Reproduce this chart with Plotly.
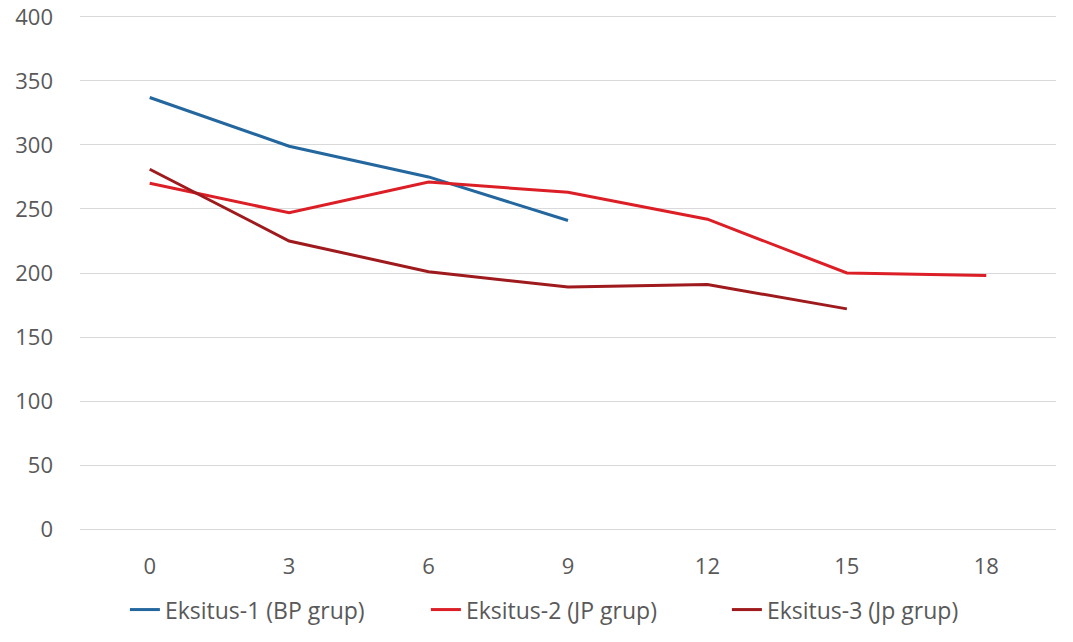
import plotly.graph_objects as go

months = ["0", "3", "6", "9", "12", "15", "18"]
eksitus1 = [337, 299, 275, 241]
eksitus2 = [270, 247, 271, 263, 242, 200, 198]
eksitus3 = [281, 225, 201, 189, 191, 172]
names = ["Eksitus-1 (BP grup)", "Eksitus-2 (JP grup)", "Eksitus-3 (Jp grup)"]
colors = ["#23679E", "#DC1F26", "#9E1A1D"]
y_ticks = [0, 50, 100, 150, 200, 250, 300, 350, 400]

fig = go.Figure()
for name, vals, col in zip(names, [eksitus1, eksitus2, eksitus3], colors):
    fig.add_trace(go.Scatter(x=months[:len(vals)], y=vals, mode="lines", name=name,
                             line=dict(color=col, width=3)))

fam = "'Open Sans', sans-serif"
fig.update_layout(
    width=1073, height=642,
    margin=dict(l=80, r=17, t=13, b=109, autoexpand=False),
    plot_bgcolor="white", paper_bgcolor="white",
    font=dict(family=fam, size=22, color="#595959"),
    showlegend=True,
    legend=dict(orientation="h", x=0.046, xanchor="left", y=-0.106, yanchor="top",
                font=dict(family=fam, size=23, color="#595959"),
                itemwidth=30, tracegroupgap=0, entrywidth=256, entrywidthmode="pixels"),
    xaxis=dict(type="category", categoryorder="array", categoryarray=months,
               range=[-0.5, 6.5], showgrid=False, showline=False, zeroline=False,
               ticks="", ticklabelstandoff=18, automargin=False),
    yaxis=dict(range=[-3, 403], tickvals=y_ticks, showgrid=True, gridcolor="#D9D9D9",
               gridwidth=1, zeroline=False, showline=False, ticks="", ticklabelstandoff=26,
               automargin=False, ticklabeloverflow="allow"),
)
fig.write_html("out.html", config={"displayModeBar": False},
               post_script="document.body.style.margin='0';")
